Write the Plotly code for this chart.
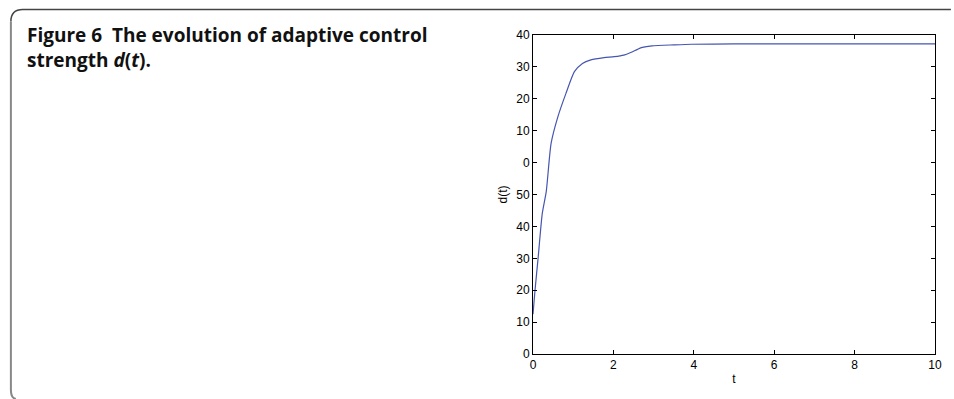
import plotly.graph_objects as go

# data (underlying scale 0..100; tick labels as printed in the figure)
t_vals = [0, 0.05, 0.13, 0.23, 0.33, 0.45, 0.62, 0.82, 1.03, 1.23, 1.44, 1.77,
          2.02, 2.26, 2.43, 2.6, 2.72, 2.96, 3.5, 3.95, 5.0, 6.0, 8.0, 10.0]
d_vals = [12.5, 20, 30.5, 44, 51, 66, 74.4, 81.7, 88.5, 91.1, 92.2, 92.9,
          93.2, 93.7, 94.5, 95.5, 96.1, 96.6, 96.9, 97.1, 97.2, 97.2, 97.2, 97.2]
y_tickvals = [0, 10, 20, 30, 40, 50, 60, 70, 80, 90, 100]
y_ticktext = ["0", "10", "20", "30", "40", "50", "0", "10", "20", "30", "40"]
x_tickvals = [0, 2, 4, 6, 8, 10]
x_ticktext = ["0", "2", "4", "6", "8", "10"]

W, H = 954, 399
L, R, T, B = 533, 16, 35, 45
pw, ph = W - L - R, H - T - B

def px(x):
    return (x - L) / pw

def py(y):
    return (H - B - y) / ph

fig = go.Figure()
fig.add_trace(go.Scatter(x=t_vals, y=d_vals, mode="lines",
                         line=dict(color="#4656b0", width=1.2, shape="spline", smoothing=0.6),
                         hoverinfo="skip", showlegend=False))

axis_font = dict(family="Liberation Sans, Arial, sans-serif", size=12, color="#000")
fig.update_layout(
    width=W, height=H,
    margin=dict(l=L, r=R, t=T, b=B),
    paper_bgcolor="white", plot_bgcolor="white",
    xaxis=dict(range=[0, 10], tickvals=x_tickvals, ticktext=x_ticktext,
               ticks="inside", ticklen=4, tickcolor="#000", showline=True,
               linecolor="#000", linewidth=1, mirror="ticks", showgrid=False,
               zeroline=False, tickfont=axis_font,
               title=dict(text="t", font=axis_font, standoff=3)),
    yaxis=dict(range=[0, 100], tickvals=y_tickvals, ticktext=y_ticktext,
               ticks="inside", ticklen=4, tickcolor="#000", showline=True,
               linecolor="#000", linewidth=1, mirror="ticks", showgrid=False,
               zeroline=False, tickfont=axis_font,
               title=dict(text="d(t)", font=axis_font, standoff=6)),
)

# frame around the figure panel
r = 12
top_path = (f"M {px(7)},{py(9.5 + r)} Q {px(7)},{py(9.5)} {px(7 + r)},{py(9.5)} "
            f"L {px(954)},{py(9.5)}")
fig.add_shape(type="path", xref="paper", yref="paper", path=top_path,
              line=dict(color="#444", width=1.5))
left_path = (f"M {px(7)},{py(9.5 + r)} L {px(7)},{py(390)} "
             f"Q {px(7)},{py(398)} {px(12)},{py(399)}")
fig.add_shape(type="path", xref="paper", yref="paper", path=left_path,
              line=dict(color="#888", width=2))

title_font = dict(family="Open Sans, Lato, sans-serif", size=19, color="#111")
fig.add_annotation(xref="paper", yref="paper", x=px(22), y=py(21), xanchor="left",
                   yanchor="top", align="left", showarrow=False, font=title_font,
                   borderpad=0,
                   text="<b>Figure 6  The evolution of adaptive control<br>strength <i>d</i>(<i>t</i>).</b>")

fig.write_html("out.html")
